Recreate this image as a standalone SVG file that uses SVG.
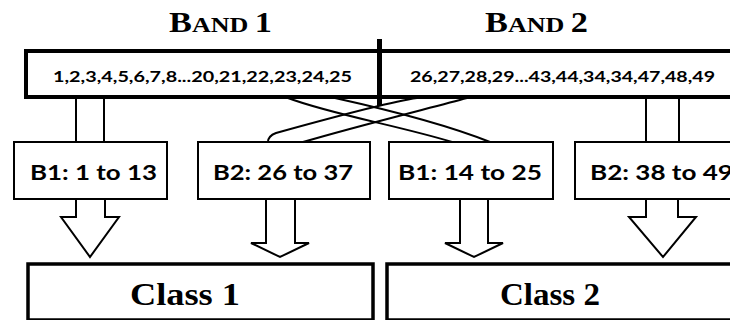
<svg xmlns="http://www.w3.org/2000/svg" width="730" height="320" viewBox="0 0 730 320">
<style>
.bg{fill:#fff}
.band{fill:#fff;stroke:#000;stroke-width:4}
.sub{fill:#fff;stroke:#000;stroke-width:2}
.cls{fill:#fff;stroke:#000;stroke-width:3.5}
.ln{fill:none;stroke:#000;stroke-width:2}
.arr{fill:#fff;stroke:#000;stroke-width:2;stroke-linejoin:miter}
.title{font-family:"Liberation Serif","Times New Roman",serif;font-weight:bold;fill:#000}
.num{font-family:Lato,"Open Sans","Liberation Sans",sans-serif;font-weight:bold;font-size:16px;fill:#000}
.lbl{font-family:Lato,"Open Sans","Liberation Sans",sans-serif;font-weight:bold;font-size:21px;fill:#000}
.ctext{font-family:"Liberation Serif","Times New Roman",serif;font-weight:bold;font-size:31px;fill:#000}
</style>
<rect class="bg" x="0" y="0" width="730" height="320"/>

<g id="title-band1">
<text class="title" x="169" y="32" textLength="103" lengthAdjust="spacingAndGlyphs"><tspan font-size="29">B</tspan><tspan font-size="22">AND</tspan><tspan font-size="22"> </tspan><tspan font-size="29">1</tspan></text>
</g>
<g id="title-band2">
<text class="title" x="485" y="32" textLength="103" lengthAdjust="spacingAndGlyphs"><tspan font-size="29">B</tspan><tspan font-size="22">AND</tspan><tspan font-size="22"> </tspan><tspan font-size="29">2</tspan></text>
</g>

<g id="connectors">
<line class="ln" x1="76" y1="98" x2="76" y2="142"/>
<line class="ln" x1="104" y1="98" x2="104" y2="142"/>
<line class="ln" x1="646" y1="98" x2="646" y2="142"/>
<line class="ln" x1="679" y1="98" x2="679" y2="142"/>
<path class="ln" d="M288,98 C330,114 400,126 452,142"/>
<path class="ln" d="M335,98 C380,108 440,122 490,142"/>
<path class="ln" d="M417,98 C395,101 330,118 276,133 Q268,136 268,142"/>
<path class="ln" d="M467,98 C430,108 350,128 303,142"/>
<path class="arr" d="M76,199 L76,217 L61,217 L90,257 L119,217 L105,217 L105,199"/>
<path class="arr" d="M266,199 L266,243 L251,243 L280,257 L309,243 L295,243 L295,199"/>
<path class="arr" d="M460,199 L460,243 L445,243 L474,257 L503,243 L488,243 L488,199"/>
<path class="arr" d="M646,199 L646,217 L629,217 L663,257 L696,217 L678,217 L678,199"/>
</g>

<g id="band-box">
<rect class="band" x="26" y="51" width="720" height="46"/>
<rect x="377" y="39" width="5" height="67" fill="#000"/>
<text class="num" x="202.5" y="82" text-anchor="middle" textLength="299" lengthAdjust="spacingAndGlyphs">1,2,3,4,5,6,7,8...20,21,22,23,24,25</text>
<text class="num" x="562.5" y="82" text-anchor="middle" textLength="305" lengthAdjust="spacingAndGlyphs">26,27,28,29...43,44,34,34,47,48,49</text>
</g>

<g id="b1-1-13">
<rect class="sub" x="14" y="142" width="153" height="57"/>
<text class="lbl" x="30" y="180" textLength="127" lengthAdjust="spacingAndGlyphs">B1: 1 to 13</text>
</g>
<g id="b2-26-37">
<rect class="sub" x="198" y="142" width="172" height="57"/>
<text class="lbl" x="213" y="180" textLength="140" lengthAdjust="spacingAndGlyphs">B2: 26 to 37</text>
</g>
<g id="b1-14-25">
<rect class="sub" x="389" y="142" width="164" height="57"/>
<text class="lbl" x="398" y="180" textLength="144" lengthAdjust="spacingAndGlyphs">B1: 14 to 25</text>
</g>
<g id="b2-38-49">
<rect class="sub" x="575" y="142" width="170" height="57"/>
<text class="lbl" x="590" y="180" textLength="143" lengthAdjust="spacingAndGlyphs">B2: 38 to 49</text>
</g>

<g id="class1">
<rect class="cls" x="28" y="264" width="345" height="56"/>
<text class="ctext" x="130" y="305" textLength="110" lengthAdjust="spacingAndGlyphs">Class 1</text>
</g>
<g id="class2">
<rect class="cls" x="387" y="264" width="360" height="56"/>
<text class="ctext" x="500" y="305" textLength="100" lengthAdjust="spacingAndGlyphs">Class 2</text>
</g>
</svg>
